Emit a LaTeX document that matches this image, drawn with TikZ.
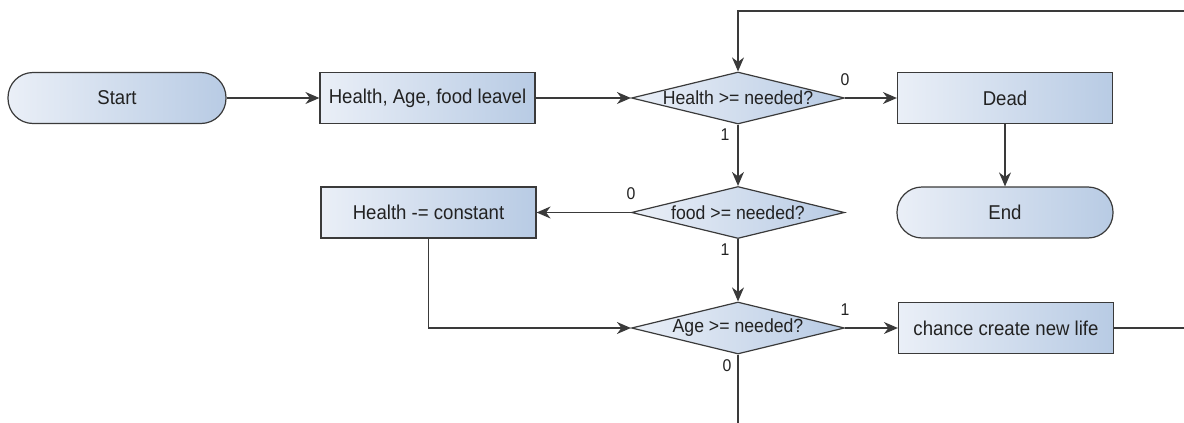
\documentclass[tikz,border=0pt]{standalone}
\usepackage{fontspec}
\setmainfont{Liberation Sans}[FakeStretch=0.93]
\usetikzlibrary{shapes.geometric,arrows.meta}
\definecolor{boxl}{HTML}{EAEFF7}
\definecolor{boxr}{HTML}{B8CBE4}
\definecolor{edge}{HTML}{3A3A3A}
\definecolor{txt}{HTML}{222222}
\tikzstyle{cterm}=[rectangle, rounded corners=12.5pt, draw=edge, line width=0.6pt, left color=boxl, right color=boxr, text=txt, minimum width=108pt, minimum height=25.5pt, font=\fontsize{10}{12}\selectfont]
\tikzstyle{cproc}=[rectangle, draw=edge, line width=0.6pt, left color=boxl, right color=boxr, text=txt, minimum width=107.5pt, minimum height=25.5pt, font=\fontsize{10}{12}\selectfont]
\tikzstyle{cdec}=[diamond, draw=edge, line width=0.6pt, left color=boxl, right color=boxr, text=txt, minimum width=106.5pt, minimum height=26pt, inner sep=0pt, font=\fontsize{9.5}{12}\selectfont]
\tikzstyle{carr}=[draw=edge, line width=0.6pt, -{Stealth[length=7pt,width=6pt]}]
\tikzstyle{cline}=[draw=edge, line width=0.6pt]
\tikzstyle{cbit}=[font=\fontsize{8.5}{10}\selectfont, text=txt, inner sep=2pt]
\newcommand{\dtext}[1]{\makebox[0pt]{#1}}

\begin{document}
\begin{tikzpicture}[x=0.5pt, y=-0.5pt]
\useasboundingbox (0,0) rectangle (1184,423);

\node[cterm, minimum width=109pt] (start) at (117,98) {Start};
\node[cproc] (input) at (427.5,98) {Health, Age, food leavel};
\node[cdec] (health) at (738,98) {\dtext{Health >= needed?}};
\node[cproc] (dead) at (1005,98) {Dead};
\node[cterm] (end) at (1005,212.5) {End};
\node[cdec] (food) at (738,212.5) {\dtext{food >= needed?}};
\node[cproc] (hcost) at (428.5,212.5) {Health -= constant};
\node[cdec] (age) at (738,328) {\dtext{Age >= needed?}};
\node[cproc] (newlife) at (1006,328) {chance create new life};

\coordinate (loopin) at (1184,11);
\coordinate (loopout) at (1184,328);
\coordinate (ageout) at (738,423);

\draw[carr] (start) -- (input);
\draw[carr] (input) -- (health);
\draw[carr] (health) -- (dead) node[cbit, pos=0, above, yshift=4pt] {0};
\draw[carr] (health) -- (food) node[cbit, pos=0, below left, xshift=-2pt] {1};
\draw[carr] (dead) -- (end);
\draw[carr] (food) -- (hcost) node[cbit, pos=0, above, yshift=4pt] {0};
\draw[carr] (food) -- (age) node[cbit, pos=0, below left, xshift=-2pt] {1};
\draw[carr] (hcost) |- (age);
\draw[carr] (age) -- (newlife) node[cbit, pos=0, above, yshift=4pt] {1};
\draw[cline] (age) -- (ageout) node[cbit, pos=0, below left, xshift=-1pt] {0};
\draw[cline] (newlife) -- (loopout);
\draw[carr] (loopin) -| (health);

\end{tikzpicture}
\end{document}
